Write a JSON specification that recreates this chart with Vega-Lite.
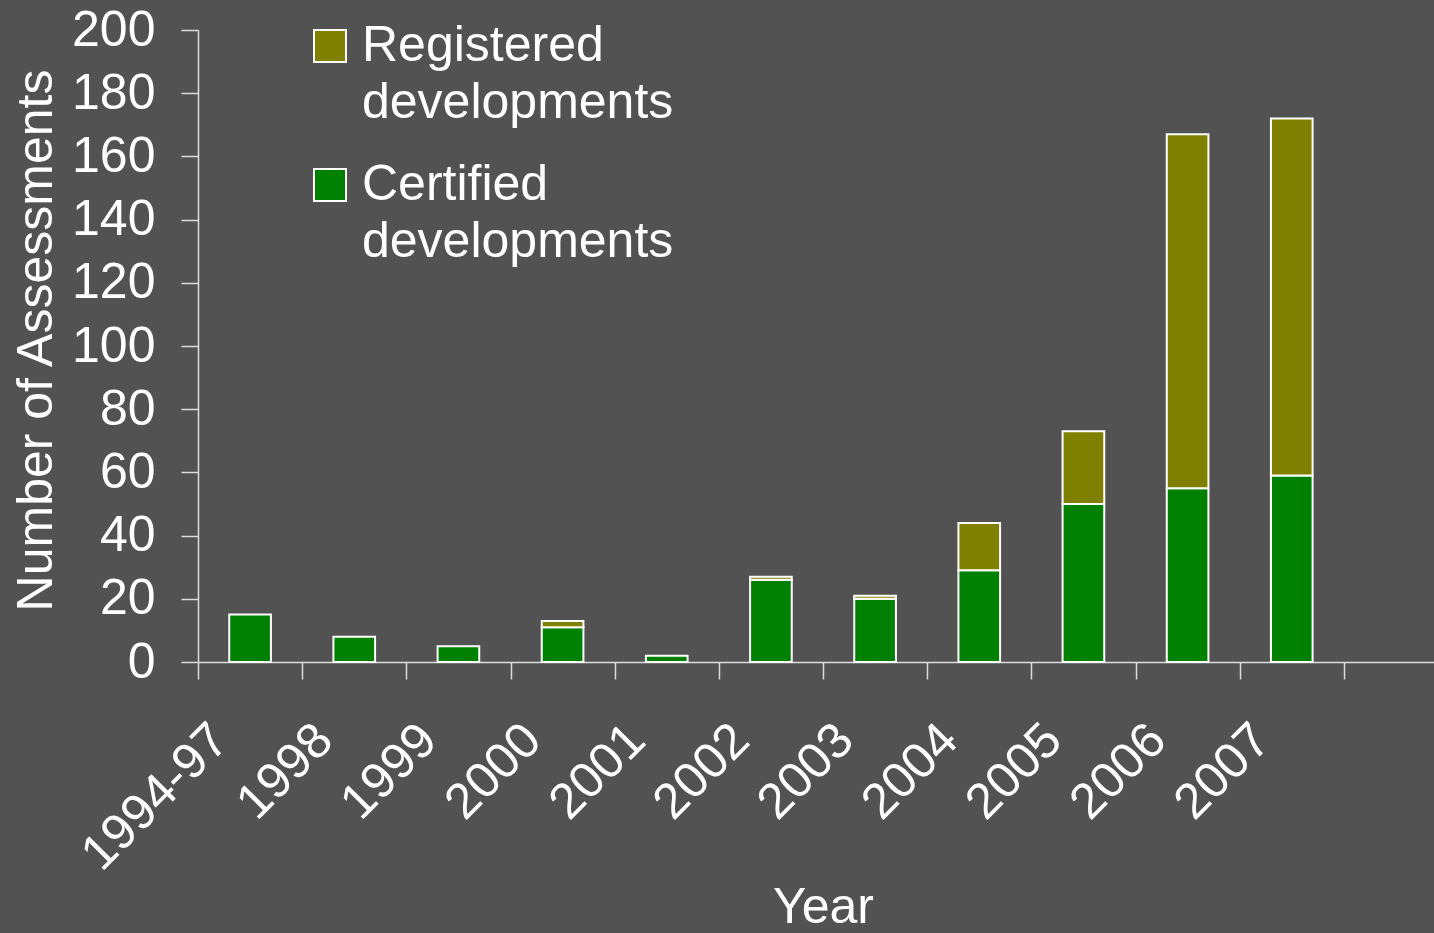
{
  "$schema": "https://vega.github.io/schema/vega-lite/v6.json",
  "width": 1250,
  "height": 632,
  "autosize": {"type": "none"},
  "padding": {"left": 198, "top": 30, "right": 0, "bottom": 271},
  "background": "#525252",
  "config": {"view": {"stroke": null}, "font": "Liberation Sans"},
  "data": {
    "values": [
      {"year": "1994-97", "status": "Certified developments", "count": 15},
      {"year": "1998", "status": "Certified developments", "count": 8},
      {"year": "1999", "status": "Certified developments", "count": 5},
      {"year": "2000", "status": "Certified developments", "count": 11},
      {"year": "2000", "status": "Registered developments", "count": 2},
      {"year": "2001", "status": "Certified developments", "count": 2},
      {"year": "2002", "status": "Certified developments", "count": 26},
      {"year": "2002", "status": "Registered developments", "count": 1},
      {"year": "2003", "status": "Certified developments", "count": 20},
      {"year": "2003", "status": "Registered developments", "count": 1},
      {"year": "2004", "status": "Certified developments", "count": 29},
      {"year": "2004", "status": "Registered developments", "count": 15},
      {"year": "2005", "status": "Certified developments", "count": 50},
      {"year": "2005", "status": "Registered developments", "count": 23},
      {"year": "2006", "status": "Certified developments", "count": 55},
      {"year": "2006", "status": "Registered developments", "count": 112},
      {"year": "2007", "status": "Certified developments", "count": 59},
      {"year": "2007", "status": "Registered developments", "count": 113}
    ]
  },
  "mark": {"type": "bar", "width": {"band": 0.4}, "stroke": "white", "strokeWidth": 2},
  "encoding": {
    "x": {
      "field": "year",
      "type": "nominal",
      "scale": {
        "domain": ["1994-97", "1998", "1999", "2000", "2001", "2002", "2003", "2004", "2005", "2006", "2007", " "],
        "paddingInner": 0,
        "paddingOuter": 0
      },
      "axis": {
        "title": "Year",
        "tickBand": "extent",
        "labelAngle": -45,
        "labelAlign": "right",
        "labelBaseline": "middle",
        "labelFontSize": 50,
        "labelColor": "white",
        "labelLimit": 0,
        "labelOffset": -30,
        "labelPadding": 53,
        "labelOverlap": false,
        "tickSize": 17,
        "tickColor": "#dddddd",
        "tickWidth": 1.5,
        "domainColor": "#dddddd",
        "domainWidth": 1.5,
        "titleFontSize": 50,
        "titleColor": "white",
        "titleFontWeight": "normal",
        "titlePadding": 20,
        "grid": false
      }
    },
    "y": {
      "field": "count",
      "type": "quantitative",
      "stack": "zero",
      "scale": {"domain": [0, 200], "nice": false},
      "axis": {
        "title": "Number of Assessments",
        "values": [0, 20, 40, 60, 80, 100, 120, 140, 160, 180, 200],
        "labelFontSize": 50,
        "labelColor": "white",
        "labelPadding": 26,
        "tickSize": 17,
        "tickColor": "#dddddd",
        "tickWidth": 1.5,
        "domainColor": "#dddddd",
        "domainWidth": 1.5,
        "titleFontSize": 50,
        "titleColor": "white",
        "titleFontWeight": "normal",
        "titlePadding": 10,
        "titleY": 310,
        "grid": false
      }
    },
    "color": {
      "field": "status",
      "type": "nominal",
      "scale": {
        "domain": ["Registered developments", "Certified developments"],
        "range": ["#808000", "#008000"]
      },
      "legend": {
        "orient": "none",
        "legendX": 107,
        "legendY": -9,
        "title": null,
        "padding": 0,
        "symbolType": "square",
        "symbolSize": 1024,
        "symbolStrokeColor": "white",
        "symbolStrokeWidth": 2,
        "symbolOpacity": 1,
        "labelFontSize": 50,
        "labelColor": "white",
        "labelLimit": 0,
        "labelOffset": 7,
        "labelBaseline": "middle",
        "labelExpr": "split(datum.label, ' ')",
        "rowPadding": 32,
        "encode": {"labels": {"update": {"lineHeight": {"value": 57}}}}
      }
    },
    "order": {"field": "status", "sort": "ascending"}
  }
}
